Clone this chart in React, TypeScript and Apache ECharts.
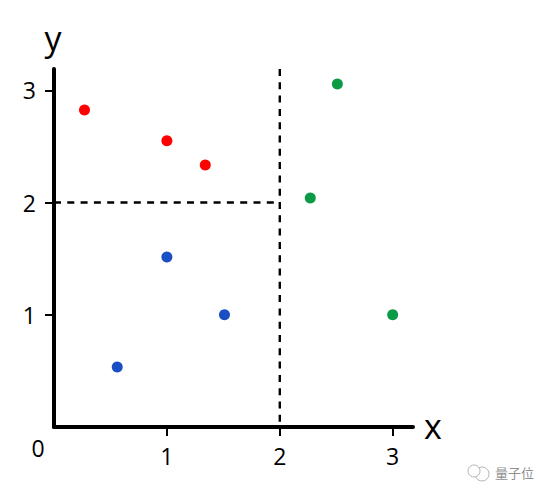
import React, { useEffect, useRef } from "react";
import * as echarts from "echarts";

const tickValues = [1, 2, 3];
const xMax = 3.18;
const yMax = 3.19;
const redPoints = [[0.27, 2.825], [1, 2.55], [1.34, 2.335]];
const bluePoints = [[0.56, 0.535], [1, 1.515], [1.51, 1.0]];
const greenPoints = [[2.51, 3.057], [2.27, 2.04], [3, 1.0]];
const dashH = [[0, 2], [2, 2]];
const dashV = [[2, yMax], [2, 0]];
const FONT = "'Open Sans', sans-serif";

const scatter = (name: string, data: number[][], color: string) => ({
  name, type: "scatter", data, symbol: "circle", symbolSize: 11,
  itemStyle: { color, opacity: 1 }, z: 5,
});
const dashed = (name: string, data: number[][]) => ({
  name, type: "line", data, symbol: "none", silent: true,
  lineStyle: { color: "#000", width: 2.4, type: [7, 6.3] }, z: 3,
});
const axis = (max: number, labelMargin: number) => ({
  type: "value", min: 0, max, interval: 1,
  splitLine: { show: false },
  axisLine: { show: true, onZero: false, lineStyle: { color: "#000", width: 4 } },
  axisTick: { show: true, customValues: tickValues, length: 9, lineStyle: { color: "#000", width: 2 } },
  axisLabel: { show: true, customValues: tickValues, margin: labelMargin, color: "#000", fontSize: 23, fontFamily: FONT },
});

export default function App() {
  const ref = useRef<HTMLDivElement>(null);
  useEffect(() => {
    const chart = echarts.init(ref.current!, undefined, { renderer: "svg" });
    chart.setOption({
      animation: false,
      backgroundColor: "#fff",
      grid: { left: 54, top: 69, width: 359, height: 358 },
      xAxis: axis(xMax, 17),
      yAxis: axis(yMax, 18),
      series: [
        dashed("h", dashH), dashed("v", dashV),
        scatter("red", redPoints, "#ff0000"),
        scatter("blue", bluePoints, "#1a4fc4"),
        scatter("green", greenPoints, "#0b9a46"),
      ],
      graphic: [
        { type: "text", x: 38, y: 448, style: { text: "0", font: `23px ${FONT}`, fill: "#000", align: "center", verticalAlign: "middle" } },
        { type: "text", x: 433, y: 426, style: { text: "x", font: `34px ${FONT}`, fill: "#000", align: "center", verticalAlign: "middle" } },
        { type: "text", x: 53, y: 38, style: { text: "y", font: `34px ${FONT}`, fill: "#000", align: "center", verticalAlign: "middle" } },
        { type: "circle", shape: { cx: 482, cy: 474, r: 7 }, style: { fill: "none", stroke: "#b5b5b5", lineWidth: 1 } },
        { type: "circle", shape: { cx: 474, cy: 471, r: 6 }, style: { fill: "#fff", stroke: "#b5b5b5", lineWidth: 1 } },
        { type: "text", x: 495, y: 472, style: { text: "量子位", font: `13px 'Noto Sans CJK SC'`, fill: "#8f8f8f", align: "left", verticalAlign: "middle" } },
      ],
    });
    return () => chart.dispose();
  }, []);
  return <div ref={ref} style={{ position: "fixed", left: 0, top: 0, width: 551, height: 497 }} />;
}
